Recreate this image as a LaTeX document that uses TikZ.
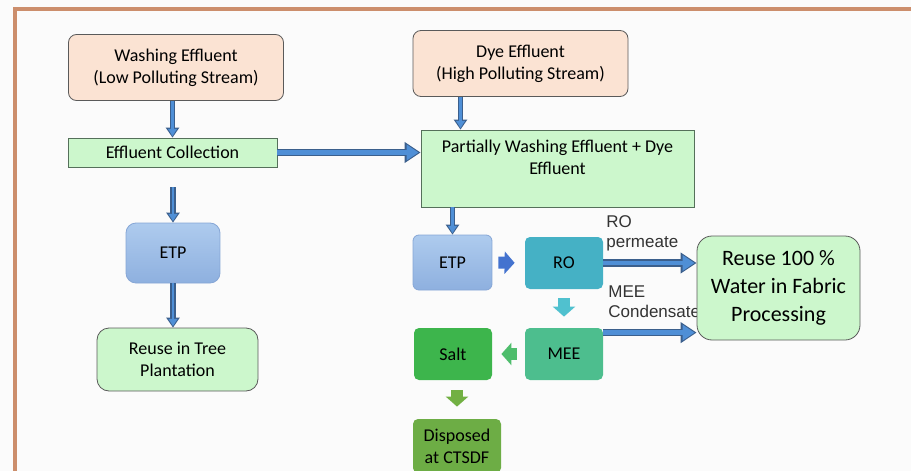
\documentclass[tikz,border=0pt]{standalone}
\usepackage{fontspec}
\setmainfont{Carlito}
\newfontfamily\labelfont{Liberation Sans}
\usepackage{tikz}
\usetikzlibrary{arrows.meta}
\definecolor{framebrown}{HTML}{CC8E6C}
\definecolor{peach}{HTML}{FBE3D3}
\definecolor{palegreen}{HTML}{CCF7CC}
\definecolor{boxline}{HTML}{5A5A5A}
\definecolor{greenline}{HTML}{55705A}
\definecolor{etptop}{HTML}{AECBEE}
\definecolor{etpbot}{HTML}{8EB0DF}
\definecolor{etpline}{HTML}{86A6D6}
\definecolor{flowblue}{HTML}{4F8FD6}
\definecolor{flowedge}{HTML}{3B5F8C}
\definecolor{rocyan}{HTML}{45B1C5}
\definecolor{meeteal}{HTML}{4DBE8E}
\definecolor{saltgreen}{HTML}{3DB54C}
\definecolor{dispgreen}{HTML}{6DAD45}
\definecolor{pushblue}{HTML}{4473CF}
\definecolor{pushcyan}{HTML}{50C1CF}
\definecolor{pushgreen}{HTML}{4EBD6C}
\definecolor{pushleaf}{HTML}{72B043}

\begin{document}
\begin{tikzpicture}[x=0.5pt,y=-0.5pt,
  txt/.style={font=\fontsize{9}{11}\selectfont,text=black,align=center,inner sep=1pt},
  srcbox/.style={txt,rounded corners=4pt,draw=boxline,fill=peach,
    minimum width=107.5pt,minimum height=33pt},
  tankbox/.style={txt,draw=greenline,fill=palegreen},
  etpbox/.style={txt,draw=etpline,top color=etptop,bottom color=etpbot},
  unitbox/.style={txt,rounded corners=2.5pt,minimum width=39pt,minimum height=26pt},
  reusebox/.style={font=\fontsize{11}{14}\selectfont,text=black,align=center,
    rounded corners=7.5pt,draw=boxline,fill=palegreen,
    minimum width=81.5pt,minimum height=52pt},
  flowlabel/.style={font=\labelfont\fontsize{8.5}{10}\selectfont,text=black!80,
    align=left,inner sep=0pt},
  flow/.style={draw=flowedge,line width=3.6pt,-{Triangle[length=8pt,width=10pt]},
    postaction={draw=flowblue,line width=2.2pt,-{Triangle[length=6pt,width=7.5pt]},shorten >=1pt}},
  vflow/.style={draw=flowedge,line width=2.6pt,-{Triangle[length=5pt,width=6.5pt]},
    postaction={draw=flowblue,line width=1.3pt,-{Triangle[length=3.6pt,width=4.4pt]},shorten >=0.8pt}},
  push/.style={draw=#1,line width=6pt,-{Triangle[length=5pt,width=11pt]}}]
  \useasboundingbox (0,0) rectangle (911,471);
  \fill[black!1.5] (0,0) rectangle (911,471);
  \draw[framebrown,line width=2pt] (15,471) |- (911,9);
  % washing stream
  \node[srcbox] (wash) at (176,67.5) {Washing Effluent\\(Low Polluting Stream)};
  \node[tankbox,minimum width=104.5pt,minimum height=14.5pt] (collect) at (172.5,152.5) {Effluent Collection};
  \node[etpbox,rounded corners=5pt,minimum width=47pt,minimum height=30pt] (etpL) at (173,253) {ETP};
  \node[tankbox,draw=boxline,rounded corners=6pt,minimum width=80.5pt,minimum height=31.5pt] (tree) at (177.5,359.5) {Reuse in Tree\\Plantation};
  % dye stream
  \node[srcbox] (dye) at (520.5,63.5) {Dye Effluent\\(High Polluting Stream)};
  \node[tankbox,minimum width=136.5pt,minimum height=38.5pt] (mix) at (557.5,168.5) {Partially Washing Effluent + Dye\\Effluent\\\mbox{}};
  \node[etpbox,rounded corners=3pt,minimum width=39.5pt,minimum height=27.5pt] (etpR) at (452.5,262.5) {ETP};
  \node[unitbox,fill=rocyan] (ro) at (564,263) {RO};
  \node[unitbox,fill=meeteal] (mee) at (564,354) {MEE};
  \node[unitbox,fill=saltgreen] (salt) at (453,354) {Salt};
  \node[unitbox,fill=dispgreen,minimum width=44pt,minimum height=27pt] (disp) at (457,446) {Disposed\\at CTSDF};
  \node[flowlabel,anchor=west] (rolab) at (606,233) {RO\\permeate};
  \node[flowlabel,anchor=west] (meelab) at (608,302) {MEE\\Condensate};
  \node[reusebox] (reuse) at (778.5,288) {Reuse 100 \%\\Water in Fabric\\Processing};
  % connectors
  \draw[vflow] (wash.south -| collect.north) -- (collect.north);
  \draw[flow] (collect.east) -- (collect.east -| mix.west);
  \draw[vflow] ([xshift=-30pt]dye.south) -- ([xshift=-30pt]dye.south |- mix.north);
  \draw[vflow,shorten <=10pt] (collect.south -| etpL.north) -- (etpL.north);
  \draw[vflow] (etpL.south) -- (etpL.south |- tree.north);
  \draw[vflow] (mix.south -| etpR.north) -- (etpR.north);
  \draw[push=pushblue,shorten <=3pt,shorten >=5pt] (etpR.east) -- (ro.west);
  \draw[push=pushcyan,shorten <=4.5pt,shorten >=5.5pt] (ro.south) -- (mee.north);
  \draw[push=pushgreen,shorten <=4pt,shorten >=4.5pt] (mee.west) -- (salt.east);
  \draw[push=pushleaf,shorten <=5pt,shorten >=6pt] (salt.south -| disp.north) -- (disp.north);
  \draw[flow] (ro.east) -- (ro.east -| reuse.west);
  \draw[flow] ([yshift=-2.5pt]mee.north east) -- ([yshift=-2.5pt]mee.north east -| reuse.west);
\end{tikzpicture}
\end{document}
